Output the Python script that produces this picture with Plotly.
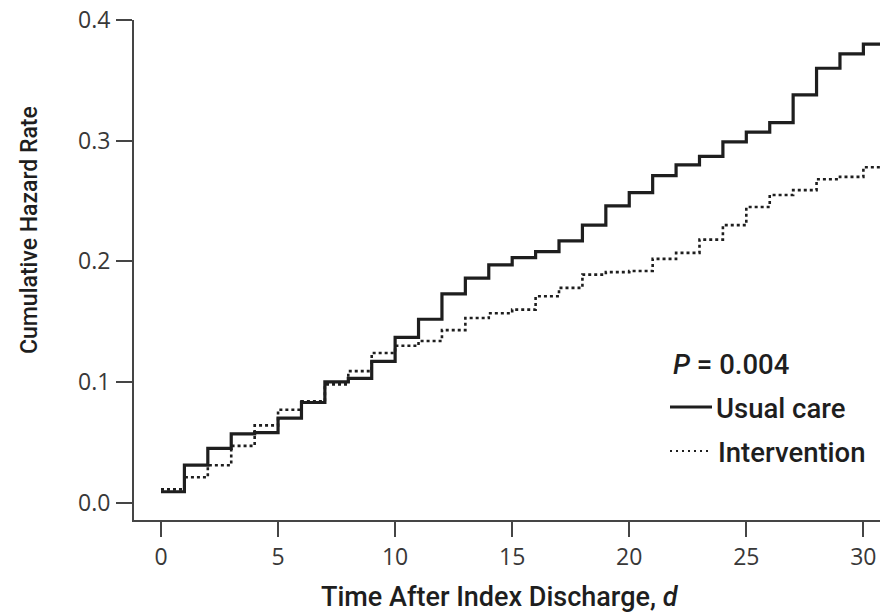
import plotly.graph_objects as go

# Cumulative hazard of readmission by day after index discharge
days = list(range(0, 31))
end_day = 31  # last level is carried to the end of follow-up

usual_care = [0.009, 0.031, 0.045, 0.057, 0.058, 0.070, 0.083, 0.100, 0.103, 0.117,
              0.137, 0.152, 0.173, 0.186, 0.197, 0.203, 0.208, 0.217, 0.230, 0.246,
              0.257, 0.271, 0.280, 0.287, 0.299, 0.307, 0.315, 0.338, 0.360, 0.372,
              0.380]
intervention = [0.011, 0.021, 0.031, 0.047, 0.064, 0.077, 0.084, 0.098, 0.109, 0.124,
                0.130, 0.134, 0.143, 0.153, 0.157, 0.160, 0.171, 0.178, 0.189, 0.191,
                0.192, 0.202, 0.207, 0.218, 0.230, 0.245, 0.255, 0.259, 0.268, 0.270,
                0.278]

x_ticks = [0, 5, 10, 15, 20, 25, 30]
y_ticks = [0.0, 0.1, 0.2, 0.3, 0.4]
p_text = "<i>P</i> = 0.004"
series_names = ["Usual care", "Intervention"]

W, H = 880, 616
ML, MR, MT, MB = 134, 0, 20, 96
PW, PH = W - ML - MR, H - MT - MB

INK = "#1e1e1e"
AXIS = "#454545"
FONT = "Open Sans, Lato, sans-serif"
TITLE_FONT = "Roboto, Open Sans, sans-serif"


def px(x):
    return (x - ML) / PW


def py(y):
    return (H - MB - y) / PH


fig = go.Figure()
fig.add_trace(go.Scatter(
    x=days + [end_day], y=usual_care + [usual_care[-1]],
    mode="lines", line=dict(shape="hv", color=INK, width=3.2),
    name=series_names[0], showlegend=False, hoverinfo="skip"))
fig.add_trace(go.Scatter(
    x=days + [end_day], y=intervention + [intervention[-1]],
    mode="lines", line=dict(shape="hv", color=INK, width=2.6, dash="3px,3px"),
    name=series_names[1], showlegend=False, hoverinfo="skip"))

tick_font = dict(family=FONT, size=23, color="#383838")
fig.update_layout(
    width=W, height=H,
    margin=dict(l=ML, r=MR, t=MT, b=MB),
    paper_bgcolor="white", plot_bgcolor="white",
    font=dict(family=FONT, color="#333", size=23),
    xaxis=dict(range=[-1.153, 30.71], tickvals=x_ticks, ticks="outside",
               ticklen=15, tickwidth=2, tickcolor=AXIS, showline=True,
               linecolor=AXIS, linewidth=2, showgrid=False, zeroline=False,
               ticklabelstandoff=0, tickfont=tick_font),
    yaxis=dict(range=[-0.0144, 0.4], tickvals=y_ticks, tickformat=".1f",
               ticks="outside", ticklen=16, tickwidth=2, tickcolor=AXIS,
               showline=True, linecolor=AXIS, linewidth=2, showgrid=False,
               zeroline=False, ticklabelstandoff=1, tickfont=tick_font),
)

# axis titles
fig.add_annotation(text="Time After Index Discharge, <i>d</i>", x=px(500), y=py(597),
                   xref="paper", yref="paper", xanchor="center", yanchor="middle",
                   showarrow=False,
                   font=dict(family=TITLE_FONT, size=27, color=INK, weight=500))
fig.add_annotation(text="Cumulative Hazard Rate", x=px(29), y=py(230),
                   xref="paper", yref="paper", xanchor="center", yanchor="middle",
                   showarrow=False, textangle=-90,
                   font=dict(family=TITLE_FONT, size=23, color=INK, weight=500))

# key: p-value and line samples
leg_font = dict(family=TITLE_FONT, size=27.5, color=INK, weight=500)
fig.add_annotation(text=p_text, x=px(671), y=py(364), xref="paper", yref="paper",
                   xanchor="left", yanchor="middle", showarrow=False, font=leg_font)
fig.add_annotation(text=series_names[0], x=px(714), y=py(408), xref="paper",
                   yref="paper", xanchor="left", yanchor="middle", showarrow=False,
                   font=leg_font)
fig.add_annotation(text=series_names[1], x=px(716), y=py(452), xref="paper",
                   yref="paper", xanchor="left", yanchor="middle", showarrow=False,
                   font=leg_font)
fig.add_shape(type="line", xref="paper", yref="paper", x0=px(670), x1=px(712),
              y0=py(407), y1=py(407), line=dict(color=INK, width=3))
fig.add_shape(type="line", xref="paper", yref="paper", x0=px(670), x1=px(710),
              y0=py(451), y1=py(451), line=dict(color=INK, width=2.2, dash="2px,4px"))

fig.write_html("out.html")
